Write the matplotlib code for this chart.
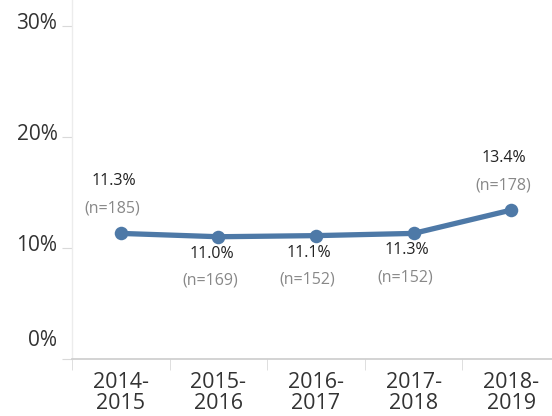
import matplotlib
matplotlib.use("Agg")
import matplotlib.pyplot as plt
from matplotlib.transforms import ScaledTranslation

plt.rcParams['font.family'] = ['Open Sans', 'DejaVu Sans']

years = ["2014-\n2015", "2015-\n2016", "2016-\n2017", "2017-\n2018", "2018-\n2019"]
rates = [11.3, 11.0, 11.1, 11.3, 13.4]
counts = [185, 169, 152, 152, 178]
label_above = [True, False, False, False, True]
y_ticks = [0, 10, 20, 30]
y_tick_labels = ["0%", "10%", "20%", "30%"]

LINE = "#4e79a7"
AXIS = "#d9d9d9"
TEXT = "#333333"

fig = plt.figure(figsize=(5.52, 4.16), dpi=100)
ax = fig.add_axes([72 / 552, 57 / 416, 488 / 552, 359 / 416])

x = list(range(len(years)))
ax.plot(x, rates, color=LINE, lw=3.8, solid_capstyle='round', zorder=3)
ax.scatter(x, rates, s=95, color=LINE, zorder=4, linewidths=0)

for xi, r, n, up in zip(x, rates, counts, label_above):
    if up:
        off_pct, off_n = 52, 25
    else:
        off_pct, off_n = -17, -44
    ax.annotate(f"{r:.1f}%", (xi, r), xytext=(-5, off_pct * 0.72),
                textcoords='offset points', ha='center', va='center',
                fontsize=11.5, color="#222222")
    ax.annotate(f"(n={n})", (xi, r), xytext=(-6, off_n * 0.72),
                textcoords='offset points', ha='center', va='center',
                fontsize=11.5, color="#888888")

ax.set_xlim(-0.5, len(years) - 0.5)
ax.set_ylim(0, 32.3)

ax.set_yticks(y_ticks, y_tick_labels)
ax.set_xticks(x, years)
ax.set_xticks([i - 0.5 for i in range(len(years) + 1)], minor=True)

ax.tick_params(axis='y', length=7, color=AXIS, labelsize=15,
               labelcolor=TEXT, pad=3.5)
ax.tick_params(axis='x', which='major', length=0, labelsize=15.5,
               labelcolor=TEXT, pad=9)
ax.tick_params(axis='x', which='minor', length=8, color=AXIS)

for t in ax.get_yticklabels():
    t.set_verticalalignment('center')
    t.set_transform(t.get_transform() + ScaledTranslation(0, 2 / 100, fig.dpi_scale_trans))
zero = ax.get_yticklabels()[0]
zero.set_transform(zero.get_transform() + ScaledTranslation(0, 16 / 100, fig.dpi_scale_trans))

for lbl in ax.get_xticklabels():
    lbl.set_linespacing(1.05)

for side in ['top', 'right']:
    ax.spines[side].set_visible(False)
ax.spines['left'].set_color("#ececec")
ax.spines['bottom'].set_color("#cccccc")
ax.spines['left'].set_linewidth(1.0)
ax.spines['bottom'].set_linewidth(1.2)

fig.savefig("out.png", dpi=100)
